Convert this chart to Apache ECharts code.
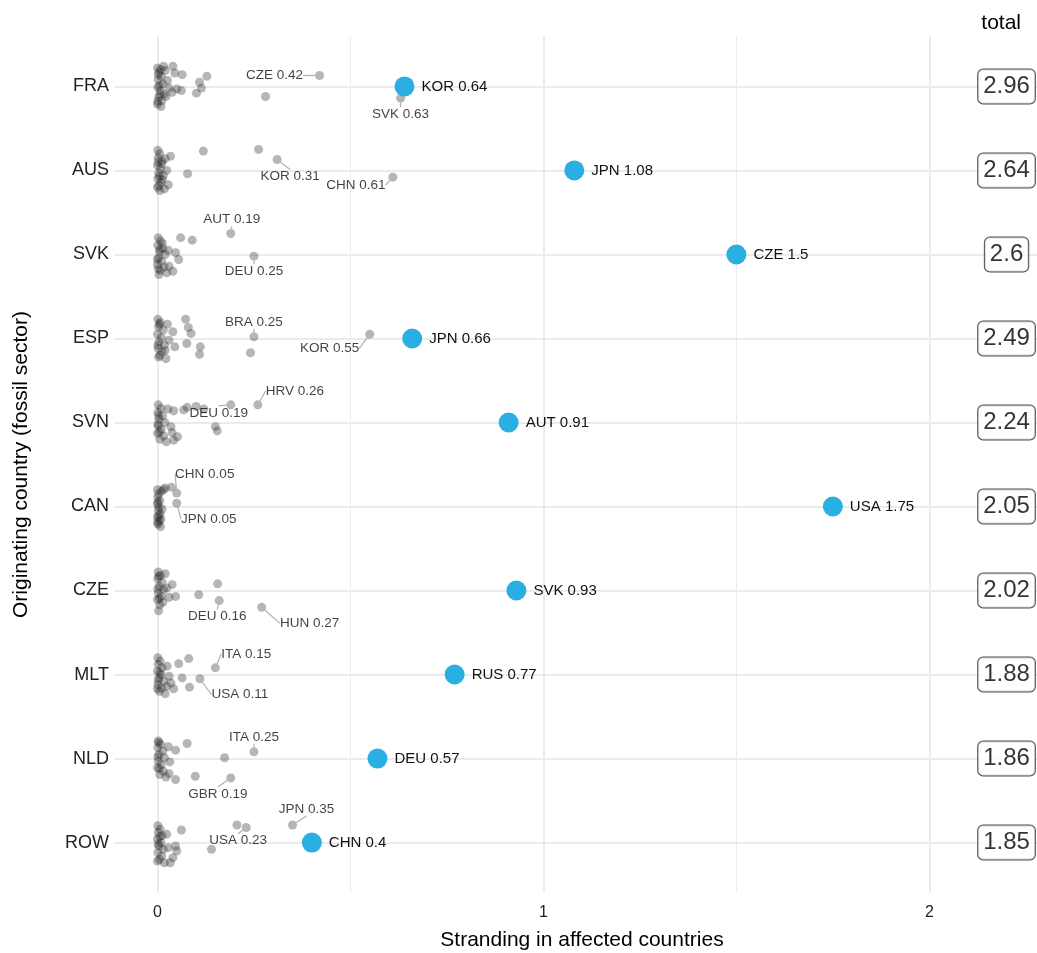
<!DOCTYPE html>
<html>
<head>
<meta charset="utf-8">
<script src="https://cdn.jsdelivr.net/npm/echarts@6/dist/echarts.min.js"></script>
<style>
  html, body { margin: 0; padding: 0; background: #fff; }
  #chart { width: 1037px; height: 953px; }
</style>
</head>
<body>
<div id="chart"></div>
<script>
// originating countries, top to bottom
var rows = ['FRA', 'AUS', 'SVK', 'ESP', 'SVN', 'CAN', 'CZE', 'MLT', 'NLD', 'ROW'];
var totals = [2.96, 2.64, 2.6, 2.49, 2.24, 2.05, 2.02, 1.88, 1.86, 1.85];

// largest affected country per row (blue)
var topPartner = ['KOR', 'JPN', 'CZE', 'JPN', 'AUT', 'USA', 'SVK', 'RUS', 'DEU', 'CHN'];
var topValue = [0.64, 1.08, 1.5, 0.66, 0.91, 1.75, 0.93, 0.77, 0.57, 0.4];

// labelled grey points
var labRow = [0, 0, 1, 1, 2, 2, 3, 3, 4, 4, 5, 5, 6, 6, 7, 7, 8, 8, 9, 9];
var labPartner = ['CZE', 'SVK', 'KOR', 'CHN', 'AUT', 'DEU', 'BRA', 'KOR', 'HRV', 'DEU',
                  'CHN', 'JPN', 'DEU', 'HUN', 'ITA', 'USA', 'ITA', 'GBR', 'JPN', 'USA'];
var labValue = [0.42, 0.63, 0.31, 0.61, 0.19, 0.25, 0.25, 0.55, 0.26, 0.19,
                0.05, 0.05, 0.16, 0.27, 0.15, 0.11, 0.25, 0.19, 0.35, 0.23];
var labJitter = [-0.13, 0.14, -0.13, 0.08, -0.25, 0.02, -0.02, -0.05, -0.21, -0.21,
                 -0.16, -0.04, 0.12, 0.2, -0.08, 0.05, -0.08, 0.23, -0.21, -0.18];

// other affected countries: [stranding, vertical jitter] per row
var grayByRow = [
  [[0,-0.22],[0.004,-0.17],[0.01,-0.12],[0.002,-0.08],[0.014,-0.03],[0.001,0.01],[0.007,0.05],[0.017,0.09],[0.003,0.13],[0.011,0.17],[0,0.21],[0.02,-0.19],[0.026,-0.07],[0.009,0.24],[0.022,0.12],[0.005,-0.01],[0.03,0.02],[0.016,-0.24],[0.045,-0.16],[0.05,0.03],[0.04,-0.24],[0.064,-0.14],[0.128,-0.12],[0.109,-0.05],[0.114,0.02],[0.101,0.08],[0.062,0.05],[0.038,0.07],[0.28,0.12],[0.002,-0.14],[0.006,0.1],[0.001,0.18],[0.008,-0.2]],
  [[0.001,-0.24],[0.006,-0.2],[0.002,-0.15],[0.012,-0.11],[0,-0.06],[0.008,-0.02],[0.003,0.03],[0.015,0.06],[0.001,0.1],[0.009,0.14],[0.004,0.18],[0.018,0.22],[0.011,-0.08],[0.024,0],[0.006,0.24],[0.02,-0.14],[0.013,0.11],[0.034,-0.17],[0.078,0.04],[0.119,-0.23],[0.262,-0.25],[0.028,0.17],[0.002,-0.1],[0.005,0.07],[0,0.2]],
  [[0.002,-0.2],[0.008,-0.16],[0.001,-0.11],[0.014,-0.07],[0.005,-0.03],[0.02,0],[0.003,0.04],[0.011,0.08],[0,0.12],[0.017,0.15],[0.007,0.19],[0.024,0.22],[0.013,-0.13],[0.028,-0.05],[0.004,0.24],[0.03,0.14],[0.06,-0.2],[0.09,-0.17],[0.047,-0.02],[0.055,0.06],[0.04,0.2],[0.002,0.17],[0.006,-0.06],[0,0.06]],
  [[0.001,-0.23],[0.007,-0.19],[0.003,-0.14],[0.015,-0.1],[0,-0.05],[0.01,-0.01],[0.004,0.04],[0.018,0.08],[0.002,0.12],[0.012,0.16],[0.006,0.2],[0.022,0.24],[0.026,-0.17],[0.03,0.02],[0.02,0.14],[0.073,-0.23],[0.08,-0.13],[0.087,-0.06],[0.076,0.06],[0.111,0.1],[0.109,0.19],[0.241,0.17],[0.04,-0.08],[0.045,0.1],[0.001,0.08],[0.005,-0.17],[0.003,0.22]],
  [[0.002,-0.21],[0.009,-0.17],[0.001,-0.12],[0.013,-0.08],[0.004,-0.04],[0.019,0],[0.002,0.04],[0.01,0.08],[0,0.13],[0.016,0.16],[0.006,0.2],[0.023,0.23],[0.027,-0.16],[0.035,0.05],[0.077,-0.18],[0.068,-0.15],[0.042,-0.14],[0.052,0.17],[0.042,0.21],[0.038,0.12],[0.15,0.05],[0.155,0.1],[0.1,-0.19],[0.12,-0.16],[0.001,0.02],[0.005,0.11],[0.003,-0.08]],
  [[0,-0.2],[0.003,-0.15],[0.001,-0.11],[0.006,-0.07],[0,-0.03],[0.004,0.01],[0.002,0.05],[0.007,0.09],[0,0.13],[0.005,0.17],[0.002,0.21],[0.008,0.24],[0.01,-0.18],[0.012,0.03],[0.009,0.15],[0.015,-0.2],[0.036,-0.23],[0.02,-0.22],[0.001,-0.05],[0.003,0.11],[0,0.19]],
  [[0.002,-0.22],[0.008,-0.18],[0.001,-0.14],[0.012,-0.1],[0.004,-0.05],[0.016,-0.01],[0.002,0.03],[0.01,0.07],[0,0.11],[0.014,0.14],[0.006,0.17],[0.02,-0.2],[0.024,-0.03],[0.03,0.08],[0.038,-0.07],[0.047,0.07],[0.003,0.24],[0.107,0.05],[0.156,-0.08],[0.001,-0.02],[0.005,0.09],[0.003,-0.17]],
  [[0.001,-0.2],[0.007,-0.16],[0.002,-0.12],[0.012,-0.08],[0,-0.04],[0.009,0],[0.004,0.04],[0.016,0.08],[0.001,0.12],[0.011,0.16],[0.005,0.2],[0.02,0.23],[0.025,-0.1],[0.03,0.02],[0.024,0.14],[0.064,0.04],[0.081,-0.19],[0.055,-0.13],[0.083,0.15],[0.042,0.17],[0.035,0.1],[0.002,0.07],[0.006,-0.02],[0,0.17]],
  [[0.002,-0.21],[0.008,-0.17],[0.001,-0.13],[0.014,-0.09],[0.004,-0.05],[0.018,-0.01],[0.002,0.03],[0.01,0.07],[0,0.11],[0.015,0.15],[0.006,0.19],[0.022,0.22],[0.028,-0.14],[0.032,0.04],[0.047,-0.1],[0.077,-0.18],[0.174,-0.01],[0.098,0.21],[0.047,0.25],[0.03,0.18],[0.001,-0.02],[0.005,0.12],[0.003,-0.19]],
  [[0.001,-0.2],[0.007,-0.16],[0.002,-0.12],[0.012,-0.08],[0,-0.04],[0.009,0],[0.004,0.04],[0.015,0.08],[0.001,0.12],[0.011,0.16],[0.005,0.2],[0.018,0.24],[0.024,-0.1],[0.028,0.06],[0.062,-0.15],[0.047,0.04],[0.05,0.1],[0.033,0.24],[0.14,0.08],[0.206,-0.21],[0.04,0.18],[0.002,0.02],[0.006,-0.07],[0,0.22]]
];

var xTicks = [0, 1, 2];
var xMinorGrid = [0.5, 1.5];
var totalX = 2.2;

// label nudges (px) for the repelled grey labels
var labDx = [-45, 0, 13, -37, 1, 0, 0, -40, 37, -12, 28, 32, -2, 48, 31, 40, 0, -13, 14, -8];
var labDy = [0, 16, 17, 8, -14, 15, -15, 14, -14, 8, -19, 16, 16, 16, -14, 16, -15, 16, -16, 13];

var FONT = 'Liberation Sans, Arial, Helvetica, sans-serif';

var grayData = [];
grayByRow.forEach(function (pts, r) {
  pts.forEach(function (p) { grayData.push([p[0], r + p[1]]); });
});

var labData = labRow.map(function (r, i) {
  return { value: [labValue[i], r + labJitter[i]], name: labPartner[i] };
});

var topData = rows.map(function (r, i) {
  return { value: [topValue[i], i], name: topPartner[i] };
});

var totalData = rows.map(function (r, i) {
  return { value: [totalX, i, totals[i]] };
});

var gridLines = [];
rows.forEach(function (r, i) { gridLines.push({ yAxis: i }); });
xTicks.forEach(function (v) { gridLines.push({ xAxis: v }); });
xMinorGrid.forEach(function (v) { gridLines.push({ xAxis: v, lineStyle: { width: 1 } }); });

var chart = echarts.init(document.getElementById('chart'));
chart.setOption({
  animation: false,
  textStyle: { fontFamily: FONT },
  title: {
    text: 'total',
    right: 11,
    top: 8,
    textStyle: { fontSize: 21, fontWeight: 'normal', color: '#000', fontFamily: FONT }
  },
  grid: { left: 115, top: 36, width: 934, height: 857, outerBoundsMode: 'none', containLabel: false },
  xAxis: {
    type: 'value',
    min: -0.11,
    max: 2.31,
    axisLine: { show: false },
    axisTick: { show: false },
    splitLine: { show: false },
    axisLabel: {
      customValues: xTicks,
      formatter: function (v) { return String(v); },
      fontSize: 16,
      color: '#222',
      margin: 12
    },
    name: 'Stranding in affected countries',
    nameLocation: 'middle',
    nameGap: 37,
    nameTextStyle: { fontSize: 21, color: '#000' }
  },
  yAxis: {
    type: 'value',
    inverse: true,
    min: -0.6,
    max: 9.6,
    axisLine: { show: false },
    axisTick: { show: false },
    splitLine: { show: false },
    axisLabel: {
      customValues: rows.map(function (r, i) { return i; }),
      formatter: function (v) { return rows[Math.round(v)]; },
      fontSize: 18,
      color: '#222',
      margin: 6
    },
    name: 'Originating country (fossil sector)',
    nameLocation: 'middle',
    nameRotate: 90,
    nameGap: 83,
    nameTextStyle: { fontSize: 21, color: '#000' }
  },
  series: [
    {
      type: 'scatter',
      data: [],
      silent: true,
      z: 0,
      markLine: {
        silent: true,
        z: 0,
        symbol: 'none',
        label: { show: false },
        lineStyle: { color: '#ebebeb', width: 2, type: 'solid' },
        data: gridLines
      }
    },
    {
      type: 'scatter',
      data: grayData,
      symbolSize: 9,
      silent: true,
      z: 3,
      itemStyle: { color: 'rgba(40,40,40,0.42)' }
    },
    {
      type: 'scatter',
      data: labData,
      symbolSize: 9,
      silent: true,
      z: 3,
      itemStyle: { color: 'rgba(40,40,40,0.42)' },
      label: {
        show: true,
        position: 'inside',
        fontSize: 13.5,
        color: '#111',
        formatter: function (p) { return p.name + ' ' + p.value[0]; }
      },
      labelLine: { show: true, lineStyle: { color: '#b0b0b0', width: 1.2 } },
      labelLayout: function (p) {
        return { dx: labDx[p.dataIndex], dy: labDy[p.dataIndex] };
      }
    },
    {
      type: 'scatter',
      data: topData,
      symbolSize: 20,
      silent: true,
      z: 4,
      itemStyle: { color: '#2aafe3', opacity: 1 },
      label: {
        show: true,
        position: 'right',
        distance: 7,
        fontSize: 15,
        color: '#111',
        formatter: function (p) { return p.name + ' ' + p.value[0]; }
      }
    },
    {
      type: 'scatter',
      data: totalData,
      symbolSize: 1,
      silent: true,
      z: 4,
      itemStyle: { color: 'rgba(0,0,0,0)' },
      label: {
        show: true,
        position: 'inside',
        fontSize: 24,
        color: '#000',
        backgroundColor: '#fff',
        borderColor: '#222',
        borderWidth: 1,
        borderRadius: 5,
        padding: [6, 5, 4, 5],
        formatter: function (p) { return String(p.value[2]); }
      }
    }
  ]
});
</script>
</body>
</html>
